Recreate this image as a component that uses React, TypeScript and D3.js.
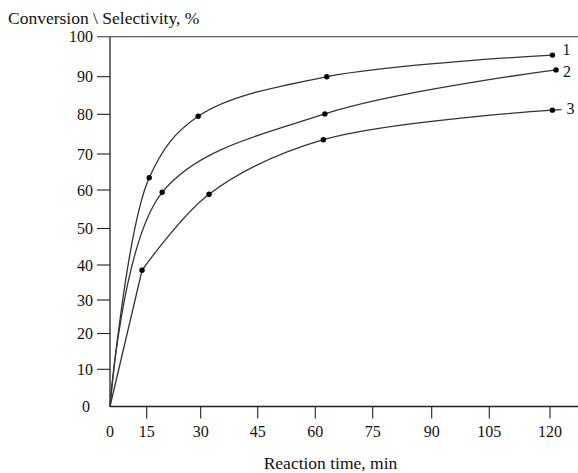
import React from "react";
import * as d3 from "d3";

// Axis ticks (the drawing's tick spacing is not uniform, so scales are piecewise)
const xTicks = [0, 15, 30, 45, 60, 75, 90, 105, 120];
const xTickPx = [110, 146.7, 200.7, 257.7, 315.3, 372.7, 431.7, 489.3, 550];
const yTicks = [0, 10, 20, 30, 40, 50, 60, 70, 80, 90, 100];
const yTickPx = [406.5, 369.3, 333.5, 300, 265, 228.5, 190, 154, 114.3, 76.7, 36.7];

// Series: reaction time (min) vs conversion / selectivity (%)
const series1: [number, number][] = [[0, 0], [15.7, 63.4], [29.3, 79.5], [63, 90], [120.6, 95.4]];
const series2: [number, number][] = [[0, 0], [19.3, 59.4], [62.5, 80.1], [121.5, 91.7]];
const series3: [number, number][] = [[0, 0], [13.1, 38.5], [32.2, 58.9], [62.1, 73.6], [120.6, 81.1]];
const seriesLabels = ["1", "2", "3"];

const W = 578;
const H = 473;
const FONT = "'Liberation Serif', 'Times New Roman', serif";

export default function App() {
  const x = d3.scaleLinear().domain(xTicks).range(xTickPx);
  const y = d3.scaleLinear().domain(yTicks).range(yTickPx);
  const smooth = d3
    .line<[number, number]>()
    .x((d) => x(d[0]))
    .y((d) => y(d[1]))
    .curve(d3.curveCatmullRom.alpha(0.5));
  const straight = d3
    .line<[number, number]>()
    .x((d) => x(d[0]))
    .y((d) => y(d[1]));

  const x0 = x(0);
  const y0 = y(0);
  const yTop = y(100);

  const all = [series1, series2, series3];
  const labelOffsets = [
    { dx: 10, dy: 0 },
    { dx: 7, dy: 7 },
    { dx: 14, dy: 4 },
  ];

  return (
    <svg
      width={W}
      height={H}
      style={{ position: "absolute", left: 0, top: 0, background: "#fff" }}
      fontFamily={FONT}
    >
      {/* title */}
      <text x={8} y={24} fontSize={17.5} fill="#111">
        Conversion \ Selectivity, %
      </text>

      {/* frame: y axis, top rule, x axis */}
      <line x1={x0} y1={yTop} x2={x0} y2={y0} stroke="#222" strokeWidth={1.3} />
      <line x1={97} y1={yTop} x2={W} y2={yTop} stroke="#333" strokeWidth={1.1} />
      <line x1={x0} y1={y0} x2={W} y2={y0} stroke="#222" strokeWidth={1.3} />

      {/* y ticks */}
      {yTicks.map((t) => (
        <g key={"y" + t}>
          {t > 0 && t < 100 && (
            <line x1={97} x2={x0} y1={y(t)} y2={y(t)} stroke="#222" strokeWidth={1.1} />
          )}
          <text
            x={t === 0 ? 90 : 93}
            y={y(t) + 5.5}
            textAnchor="end"
            fontSize={16}
            fill="#111"
          >
            {t}
          </text>
        </g>
      ))}

      {/* x ticks */}
      {xTicks.map((t) => (
        <g key={"x" + t}>
          {t > 0 && (
            <line x1={x(t)} x2={x(t)} y1={y0} y2={y0 + 12} stroke="#222" strokeWidth={1.1} />
          )}
          <text x={x(t)} y={437} textAnchor="middle" fontSize={16} fill="#111">
            {t}
          </text>
        </g>
      ))}

      {/* x axis title */}
      <text x={330.5} y={469} textAnchor="middle" fontSize={17.5} fill="#111">
        Reaction time, min
      </text>

      {/* curves */}
      <path d={smooth(series1) ?? ""} fill="none" stroke="#333" strokeWidth={1.3} />
      <path d={smooth(series2) ?? ""} fill="none" stroke="#333" strokeWidth={1.3} />
      <path d={straight(series3.slice(0, 2)) ?? ""} fill="none" stroke="#333" strokeWidth={1.3} />
      <path d={smooth(series3.slice(1)) ?? ""} fill="none" stroke="#333" strokeWidth={1.3} />

      {/* leader for series 3 label */}
      {(() => {
        const last = series3[series3.length - 1];
        return (
          <line
            x1={x(last[0])}
            y1={y(last[1])}
            x2={x(last[0]) + 9}
            y2={y(last[1]) - 0.5}
            stroke="#333"
            strokeWidth={1.2}
          />
        );
      })()}

      {/* markers */}
      {all.map((s, i) =>
        s.slice(1).map((d, j) => (
          <circle key={`p${i}-${j}`} cx={x(d[0])} cy={y(d[1])} r={2.7} fill="#000" />
        ))
      )}

      {/* series numbers */}
      {all.map((s, i) => {
        const last = s[s.length - 1];
        return (
          <text
            key={"l" + i}
            x={x(last[0]) + labelOffsets[i].dx}
            y={y(last[1]) + labelOffsets[i].dy}
            fontSize={16}
            fill="#111"
          >
            {seriesLabels[i]}
          </text>
        );
      })}
    </svg>
  );
}
